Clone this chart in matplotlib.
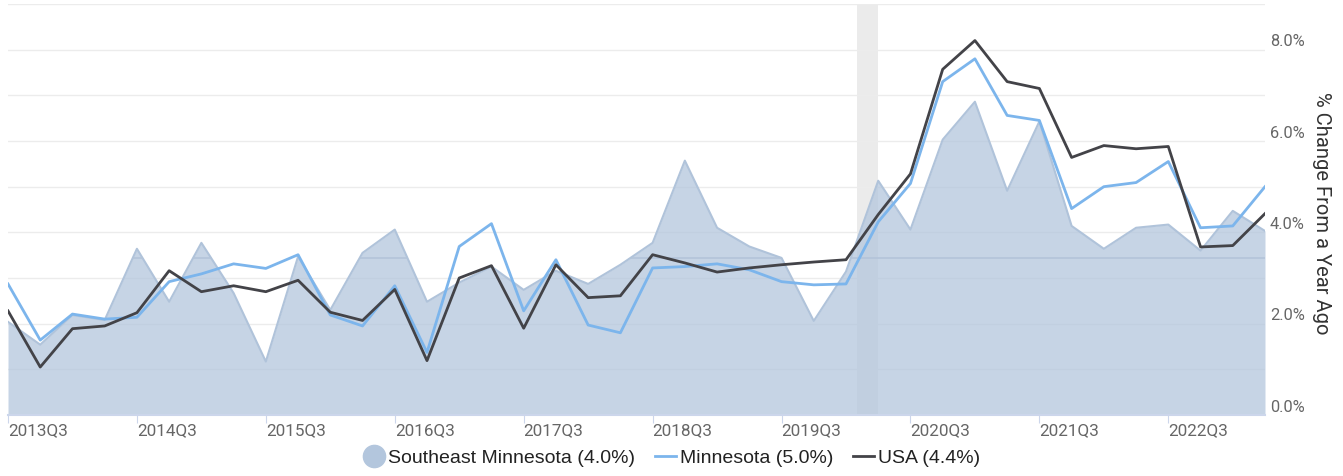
import matplotlib
matplotlib.use("Agg")
import matplotlib.pyplot as plt
from matplotlib.lines import Line2D
import matplotlib.transforms as mtransforms

plt.rcParams['font.family'] = ['Roboto', 'DejaVu Sans']

# quarters 2013Q3 .. 2023Q2
quarters = []
for yr in range(2013, 2024):
    for q in range(1, 5):
        if (yr, q) >= (2013, 3) and (yr, q) <= (2023, 2):
            quarters.append(f"{yr}Q{q}")

# % change from a year ago
se_minnesota = [2.04, 1.54, 2.19, 2.08, 3.64, 2.48, 3.77, 2.67, 1.17, 3.47,
                2.30, 3.55, 4.06, 2.48, 2.90, 3.25, 2.74, 3.16, 2.87, 3.29,
                3.77, 5.57, 4.10, 3.69, 3.44, 2.06, 3.14, 5.13, 4.06, 6.03,
                6.86, 4.91, 6.43, 4.14, 3.64, 4.10, 4.17, 3.60, 4.47, 4.03]
minnesota = [2.87, 1.64, 2.21, 2.10, 2.14, 2.92, 3.09, 3.31, 3.21, 3.51,
             2.19, 1.95, 2.83, 1.37, 3.69, 4.19, 2.28, 3.40, 1.97, 1.80,
             3.22, 3.25, 3.31, 3.18, 2.92, 2.85, 2.87, 4.23, 5.07, 7.30,
             7.80, 6.56, 6.45, 4.52, 5.00, 5.09, 5.55, 4.10, 4.14, 5.00]
usa = [2.28, 1.05, 1.89, 1.95, 2.24, 3.16, 2.70, 2.83, 2.70, 2.95,
       2.25, 2.07, 2.75, 1.19, 3.00, 3.27, 1.90, 3.29, 2.57, 2.61,
       3.51, 3.33, 3.13, 3.22, 3.29, 3.35, 3.40, 4.39, 5.28, 7.57,
       8.20, 7.30, 7.15, 5.64, 5.90, 5.83, 5.88, 3.68, 3.71, 4.41]

y_ticks = [0, 2, 4, 6, 8]
x = list(range(len(quarters)))

fig = plt.figure(figsize=(13.43, 4.76), dpi=100)
ax = fig.add_axes([8 / 1343, 61 / 476, 1257 / 1343, 411 / 476])

# recession band
ax.axvspan(26.33, 27.0, facecolor='#ebebeb', edgecolor='none', zorder=0)

# grid
for g in range(0, 10):
    ax.axhline(g, color='#ececec', lw=1, zorder=0.5)

area = ax.fill_between(x, se_minnesota, 0, color='#b3c6dd', alpha=0.75, lw=0, zorder=1)
ax.plot(x, se_minnesota, color='#b0c3da', lw=1.5, zorder=1.5)
# faint line only visible inside the area
hl = ax.axhline(3.44, color='#b3c4d9', lw=1.2, zorder=1.6)
hl.set_clip_path(area.get_paths()[0], ax.transData)
ax.plot(x, minnesota, color='#7cb5ec', lw=2, zorder=3)
ax.plot(x, usa, color='#434348', lw=2, zorder=4)

ax.set_xlim(0, len(quarters) - 1)
ax.set_ylim(0, 9)

for s in ['top', 'right', 'left']:
    ax.spines[s].set_visible(False)
ax.spines['bottom'].set_color('#ccd6eb')
ax.spines['bottom'].set_linewidth(1.5)

xt = x[::4]
ax.set_xticks(xt)
ax.set_xticklabels([quarters[i] for i in xt], color='#666666', fontsize=12.3, ha='left')
ax.tick_params(axis='x', length=6, color='#ccd6eb', pad=0)
ax.set_yticks([])

trans = mtransforms.blended_transform_factory(ax.transAxes, ax.transData)
for v in y_ticks:
    ax.text(1.004, v + 0.17, f"{v:.1f}%", transform=trans, color='#666666',
            fontsize=11.8, ha='left', va='center')

fig.text(0.984, 0.553, '% Change From a Year Ago', rotation=270, ha='center',
         va='center', fontsize=14.5, color='#333333')

handles = [
    Line2D([], [], marker='o', linestyle='none', markersize=16,
           markerfacecolor='#b3c6dd', markeredgecolor='#b3c6dd'),
    Line2D([], [], color='#7cb5ec', lw=2),
    Line2D([], [], color='#434348', lw=2),
]
labels = ['Southeast Minnesota (4.0%)', 'Minnesota (5.0%)', 'USA (4.4%)']
fig.legend(handles, labels, loc='center', bbox_to_anchor=(0.5, 18 / 476), ncol=3,
           frameon=False, handlelength=1.1, handletextpad=0.2, columnspacing=1.0,
           labelcolor='#222222', prop={'family': ['Liberation Sans', 'DejaVu Sans'], 'size': 14})

fig.savefig('out.png', dpi=100)
